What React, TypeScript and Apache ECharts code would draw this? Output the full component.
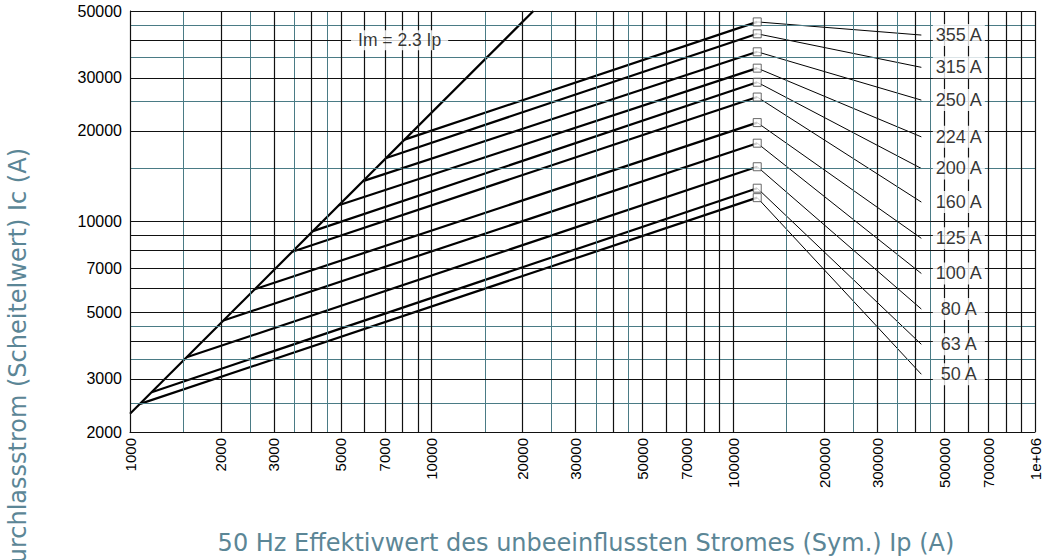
import React, { useEffect, useRef } from "react";
import * as echarts from "echarts";

// ---- data ----
const fuseLabels = ["50 A", "63 A", "80 A", "100 A", "125 A", "160 A", "200 A", "224 A", "250 A", "315 A", "355 A"];
// start of each cut-off line (on the Im = 2.3 Ip limit line)
const kneeIp = [1080, 1180, 1540, 2040, 2590, 3450, 4040, 4920, 5920, 7070, 8130];
const kneeIc = [2480, 2710, 3540, 4690, 5960, 7940, 9290, 11320, 13620, 16260, 18700];
// end of each cut-off line
const endIp = 120000;
const endIc = [12000, 12900, 15200, 18200, 21300, 25900, 29000, 32300, 36600, 42000, 46000];
// end of each leader line (label anchor)
const leaderIp = 420000;
const leaderIc = [3110, 3910, 5120, 6720, 8790, 11600, 15000, 19100, 25300, 32500, 41600];
// limit line Im = 2.3 Ip
const limitIp = [1000, 21740];
const limitIc = [2300, 50000];
const limitLabel = "Im = 2.3 Ip";
const limitLabelIp = 7830;
const limitLabelIc = 40000;

// axis ticks
const xTicks = [1000, 2000, 3000, 5000, 7000, 10000, 20000, 30000, 50000, 70000, 100000, 200000, 300000, 500000, 700000, 1000000];
const xTickLabels = ["1000", "2000", "3000", "5000", "7000", "10000", "20000", "30000", "50000", "70000", "100000", "200000", "300000", "500000", "700000", "1e+06"];
const yTicks = [2000, 3000, 5000, 7000, 10000, 20000, 30000, 50000];
const yTickLabels = ["2000", "3000", "5000", "7000", "10000", "20000", "30000", "50000"];

// grid lines
const xMajorGrid = [1000, 2000, 3000, 4000, 5000, 6000, 7000, 8000, 9000, 10000, 20000, 30000, 40000, 50000, 60000, 70000, 80000, 90000, 100000, 200000, 300000, 400000, 500000, 600000, 700000, 800000, 900000, 1000000];
const xMinorGrid = [1500, 2500, 3500, 4500, 15000, 25000, 35000, 45000, 150000, 250000, 350000, 450000];
const yMajorGrid = [2000, 3000, 4000, 5000, 6000, 7000, 8000, 9000, 10000, 20000, 30000, 40000, 50000];
const yMinorGrid = [2500, 3500, 4500, 15000, 25000, 35000, 45000];

const xTitle = "50 Hz Effektivwert des unbeeinflussten Stromes (Sym.) Ip (A)";
const yTitle = "Durchlassstrom (Scheitelwert) Ic (A)";

const FONT = '"Liberation Sans", Arial, sans-serif';
const TITLE_FONT = '"DejaVu Sans", sans-serif';
const TEAL = "#4a7b85";
const TITLE_COLOR = "#5b8696";

function nearestLabel(v: number, ticks: number[], labels: string[]) {
  let best = 0;
  let bd = Infinity;
  const lv = Math.log10(v);
  ticks.forEach((t, i) => {
    const d = Math.abs(Math.log10(t) - lv);
    if (d < bd) {
      bd = d;
      best = i;
    }
  });
  return labels[best];
}

function gridSeries(name: string, xs: number[], ys: number[], color: string, width: number, z: number) {
  return {
    name,
    type: "line",
    data: [],
    z,
    silent: true,
    markLine: {
      silent: true,
      symbol: ["none", "none"],
      label: { show: false },
      emphasis: { disabled: true },
      lineStyle: { color, width, type: "solid" },
      data: [...xs.map((v) => ({ xAxis: v })), ...ys.map((v) => ({ yAxis: v }))],
      animation: false,
    },
  };
}

function buildOption() {
  const series: any[] = [];
  series.push(gridSeries("gridMinor", xMinorGrid, yMinorGrid, TEAL, 1, 1));
  series.push(gridSeries("gridMajor", xMajorGrid, yMajorGrid, "#111", 1.2, 2));

  series.push({
    name: "limit",
    type: "line",
    z: 4,
    symbol: "none",
    showSymbol: false,
    lineStyle: { color: "#000", width: 2.2 },
    data: limitIp.map((x, i) => [x, limitIc[i]]),
  });

  fuseLabels.forEach((name, i) => {
    series.push({
      name,
      type: "line",
      z: 4,
      symbol: "none",
      showSymbol: false,
      lineStyle: { color: "#000", width: 2.2 },
      data: [
        [kneeIp[i], kneeIc[i]],
        [endIp, endIc[i]],
      ],
    });
    series.push({
      name: name + " leader",
      type: "line",
      z: 4,
      symbol: "none",
      showSymbol: false,
      lineStyle: { color: "#000", width: 1 },
      data: [
        [endIp, endIc[i]],
        [leaderIp, leaderIc[i]],
      ],
    });
  });

  series.push({
    name: "ends",
    type: "scatter",
    z: 6,
    symbol: "rect",
    symbolSize: 8,
    itemStyle: { color: "#fff", borderColor: "#444", borderWidth: 1 },
    data: endIc.map((v) => [endIp, v]),
  });

  series.push({
    name: "fuse labels",
    type: "scatter",
    z: 8,
    symbolSize: 1,
    itemStyle: { color: "transparent" },
    label: {
      show: true,
      position: "right",
      distance: 37,
      align: "center",
      verticalAlign: "middle",
      width: 46,
      padding: [2, 3],
      backgroundColor: "#fff",
      color: "#000",
      fontSize: 18,
      fontFamily: FONT,
      formatter: (p: any) => fuseLabels[p.dataIndex],
    },
    data: leaderIc.map((v) => [leaderIp, v]),
  });

  series.push({
    name: "limit label",
    type: "scatter",
    z: 8,
    symbolSize: 1,
    itemStyle: { color: "transparent" },
    label: {
      show: true,
      position: "inside",
      align: "center",
      verticalAlign: "middle",
      padding: [1, 7],
      backgroundColor: "#fff",
      color: "#000",
      fontSize: 17.5,
      fontFamily: FONT,
      formatter: () => limitLabel,
    },
    data: [[limitLabelIp, limitLabelIc]],
  });

  return {
    animation: false,
    backgroundColor: "#fff",
    grid: { left: 130, right: 9, top: 11, bottom: 128, containLabel: false },
    xAxis: {
      type: "log",
      logBase: 10,
      min: 1000,
      max: 1000000,
      axisLine: { show: true, onZero: false, lineStyle: { color: "#000", width: 1 } },
      axisTick: { show: false },
      splitLine: { show: false },
      axisLabel: {
        show: true,
        customValues: xTicks,
        formatter: (v: number) => nearestLabel(v, xTicks, xTickLabels),
        rotate: 90,
        margin: 6,
        fontSize: 15,
        color: "#000",
        fontFamily: FONT,
        showMinLabel: true,
        showMaxLabel: true,
        hideOverlap: false,
      },
    },
    yAxis: {
      type: "log",
      logBase: 10,
      min: 2000,
      max: 50000,
      axisLine: { show: true, onZero: false, lineStyle: { color: "#000", width: 1 } },
      axisTick: { show: false },
      splitLine: { show: false },
      axisLabel: {
        show: true,
        customValues: yTicks,
        formatter: (v: number) => nearestLabel(v, yTicks, yTickLabels),
        margin: 8,
        fontSize: 16,
        color: "#000",
        fontFamily: FONT,
        showMinLabel: true,
        showMaxLabel: true,
        hideOverlap: false,
      },
    },
    graphic: [
      {
        type: "text",
        x: 586,
        y: 543,
        silent: true,
        style: {
          text: xTitle,
          font: `24px ${TITLE_FONT}`,
          fill: TITLE_COLOR,
          align: "center",
          verticalAlign: "middle",
          textAlign: "center",
          textVerticalAlign: "middle",
        },
      },
      {
        type: "text",
        x: 18,
        y: 148,
        rotation: Math.PI / 2,
        silent: true,
        style: {
          text: yTitle,
          font: `24px ${TITLE_FONT}`,
          fill: TITLE_COLOR,
          align: "right",
          verticalAlign: "middle",
          textAlign: "right",
          textVerticalAlign: "middle",
        },
      },
    ],
    series,
  };
}

export default function App() {
  const ref = useRef<HTMLDivElement>(null);
  useEffect(() => {
    if (!ref.current) return;
    const chart = echarts.init(ref.current, null, { renderer: "svg" });
    chart.setOption(buildOption() as any);
    return () => chart.dispose();
  }, []);
  return (
    <div
      ref={ref}
      style={{ position: "fixed", left: 0, top: 0, width: 1044, height: 560, background: "#fff" }}
    />
  );
}
